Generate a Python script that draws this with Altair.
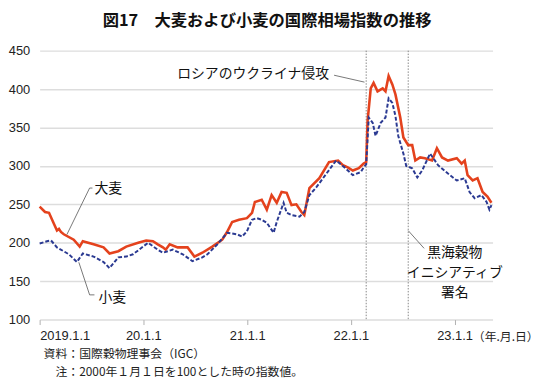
import altair as alt
import pandas as pd

# ---- data ----
barley_dates = [
    "2019-01-01", "2019-01-20", "2019-02-03", "2019-02-21", "2019-03-03", "2019-03-10",
    "2019-03-17", "2019-03-27", "2019-05-01", "2019-05-22", "2019-06-02", "2019-07-10",
    "2019-08-14", "2019-09-04", "2019-10-05", "2019-11-02", "2019-12-14", "2020-01-11",
    "2020-02-04", "2020-02-21", "2020-03-10", "2020-03-20", "2020-04-03", "2020-05-01",
    "2020-06-05", "2020-06-29", "2020-07-27", "2020-08-31", "2020-10-05", "2020-10-22",
    "2020-11-09", "2020-12-03", "2020-12-31", "2021-01-18", "2021-01-28", "2021-02-21",
    "2021-03-11", "2021-03-28", "2021-04-15", "2021-05-02", "2021-05-20", "2021-06-06",
    "2021-06-23", "2021-07-11", "2021-07-21", "2021-08-08", "2021-09-12", "2021-10-16",
    "2021-11-17", "2021-12-04", "2021-12-21", "2022-01-08", "2022-01-29", "2022-02-15",
    "2022-02-24", "2022-03-01", "2022-03-12", "2022-03-22", "2022-04-05", "2022-04-23",
    "2022-05-03", "2022-05-14", "2022-05-27", "2022-06-07", "2022-06-24", "2022-07-05",
    "2022-07-22", "2022-08-05", "2022-08-16", "2022-09-02", "2022-09-19", "2022-10-14",
    "2022-10-31", "2022-11-18", "2022-12-09", "2023-01-09", "2023-01-26", "2023-02-06",
    "2023-02-16", "2023-03-06", "2023-03-23", "2023-04-10", "2023-04-27", "2023-05-11",
]
barley_values = [
    247, 240, 239, 224, 216, 218,
    214, 211, 204, 195, 202, 198,
    194, 186, 189, 195, 200, 203,
    202, 198, 194, 191, 198, 194,
    194, 182, 187, 195, 204, 214,
    227, 230, 232, 239, 253, 256,
    243, 262, 252, 266, 265, 249,
    250, 240, 236, 271, 284, 305,
    307, 301, 298, 294, 297, 303,
    305, 359, 401, 408, 397, 401,
    397, 417, 406, 393, 363, 337,
    327, 327, 307, 311, 310, 307,
    323, 311, 307, 310, 303, 307,
    288, 281, 284, 266, 260, 252,
]

wheat_dates = [
    "2019-01-01", "2019-01-27", "2019-02-10", "2019-03-03", "2019-04-14", "2019-05-12",
    "2019-06-02", "2019-07-10", "2019-08-14", "2019-09-04", "2019-10-05", "2019-11-02",
    "2019-11-26", "2020-01-18", "2020-02-21", "2020-03-10", "2020-04-14", "2020-05-19",
    "2020-06-22", "2020-07-27", "2020-08-14", "2020-09-18", "2020-10-22", "2020-11-26",
    "2020-12-14", "2020-12-31", "2021-01-18", "2021-02-04", "2021-02-21", "2021-03-11",
    "2021-04-04", "2021-04-15", "2021-05-09", "2021-05-20", "2021-06-06", "2021-07-04",
    "2021-07-21", "2021-08-08", "2021-09-01", "2021-10-23", "2021-11-10", "2021-12-04",
    "2022-01-08", "2022-02-05", "2022-02-15", "2022-02-24", "2022-03-05", "2022-03-19",
    "2022-03-29", "2022-04-16", "2022-05-03", "2022-05-14", "2022-05-27", "2022-06-07",
    "2022-06-17", "2022-07-05", "2022-07-15", "2022-08-05", "2022-08-23", "2022-09-09",
    "2022-10-07", "2022-11-04", "2022-12-09", "2023-01-09", "2023-02-06", "2023-02-23",
    "2023-03-13", "2023-04-06", "2023-04-24", "2023-05-04", "2023-05-11",
]
wheat_values = [
    199, 202, 203, 194, 185, 175,
    186, 182, 175, 167, 181, 182,
    185, 200, 191, 187, 191, 185,
    176, 181, 185, 198, 213, 211,
    208, 215, 230, 232, 230, 226,
    213, 227, 252, 239, 236, 234,
    240, 262, 272, 298, 307, 300,
    288, 292, 298, 302, 363, 356,
    339, 356, 363, 388, 382, 365,
    339, 316, 300, 297, 285, 294,
    316, 301, 290, 281, 284, 266,
    258, 262, 253, 243, 249,
]

y_ticks = [100, 150, 200, 250, 300, 350, 400, 450]
x_tick_years = [2019, 2020, 2021, 2022, 2023]
x_tick_labels = ["2019.1.1", "20.1.1", "21.1.1", "22.1.1", "23.1.1"]
event_dates = ["2022-02-24", "2022-07-22"]

title_text = "図17　大麦および小麦の国際相場指数の推移"
unit_text = "（年.月.日）"
source_lines = ["資料：国際穀物理事会（IGC）", "注：2000年１月１日を100とした時の指数値。"]

# annotation texts (anchored in data coordinates)
ann_right_text = ["ロシアのウクライナ侵攻"]
ann_right_date = ["2021-10-16"]
ann_right_value = [419]

ann_left_text = ["大麦", "小麦"]
ann_left_date = ["2019-07-13", "2019-07-27"]
ann_left_value = [270, 128]

ann_center_text = ["黒海穀物", "イニシアティブ", "署名"]
ann_center_date = ["2023-01-02", "2023-01-02", "2023-01-02"]
ann_center_value = [186, 160.5, 134.7]

# leader lines: start/end
lead_d1 = ["2021-11-03", "2019-06-26", "2019-06-26", "2019-05-19", "2019-06-26", "2022-07-22"]
lead_v1 = [418, 271.2, 271.2, 174.6, 132.2, 215.8]
lead_d2 = ["2022-02-18", "2019-07-06", "2019-04-07", "2019-06-26", "2019-07-13", "2022-09-16"]
lead_v2 = [409, 271.2, 210.7, 132.2, 132.2, 192.7]

# ---- build tables ----
barley_df = pd.DataFrame({"date": barley_dates, "value": barley_values})
wheat_df = pd.DataFrame({"date": wheat_dates, "value": wheat_values})
events_df = pd.DataFrame({"date": event_dates})
lead_df = pd.DataFrame({"d1": lead_d1, "v1": lead_v1, "d2": lead_d2, "v2": lead_v2})
ann_r = pd.DataFrame({"date": ann_right_date, "value": ann_right_value, "label": ann_right_text})
ann_l = pd.DataFrame({"date": ann_left_date, "value": ann_left_value, "label": ann_left_text})
ann_c = pd.DataFrame({"date": ann_center_date, "value": ann_center_value, "label": ann_center_text})

JP = "Noto Sans CJK JP"
NUM = "Liberation Sans"

label_array = "[" + ",".join("'%s'" % s for s in x_tick_labels) + "]"
label_expr = "%s[utcyear(datum.value) - %d]" % (label_array, x_tick_years[0])

x_scale = alt.Scale(
    type="utc",
    domain=[alt.DateTime(year=2019, month=1, date=1, utc=True),
            alt.DateTime(year=2023, month=5, date=15, utc=True)],
)
y_scale = alt.Scale(domain=[100, 450], nice=False, zero=False)

x_axis = alt.Axis(
    values=[alt.DateTime(year=y, month=1, date=1, utc=True) for y in x_tick_years],
    labelExpr=label_expr, title=None, grid=False, domain=False, ticks=True,
    tickSize=5, tickColor="#b0b0b0", tickWidth=1, labelFontSize=13, labelFont=NUM,
    labelColor="#222222", labelPadding=5, labelOverlap=False,
)
y_axis = alt.Axis(
    values=y_ticks, title=None, domain=False, ticks=False, grid=True,
    gridColor="#dddddd", gridWidth=1.5, labelFontSize=13, labelFont=NUM,
    labelColor="#222222", labelPadding=10, labelOverlap=False, labelFlush=False,
    format="d",
)

X = lambda f: alt.X(f, scale=x_scale, axis=x_axis)
Y = lambda f: alt.Y(f, scale=y_scale, axis=y_axis)

events = alt.Chart(events_df).mark_rule(
    color="#888888", strokeWidth=1, strokeDash=[1.5, 1.5]
).encode(x=X("date:T"))

barley = alt.Chart(barley_df).mark_line(
    color="#e4421d", strokeWidth=2.6
).encode(x=X("date:T"), y=Y("value:Q"))

wheat = alt.Chart(wheat_df).mark_line(
    color="#2b3a92", strokeWidth=2, strokeDash=[4, 2]
).encode(x=X("date:T"), y=Y("value:Q"))

leaders = alt.Chart(lead_df).mark_rule(color="#555555", strokeWidth=0.8).encode(
    x=X("d1:T"), x2="d2:T", y=Y("v1:Q"), y2="v2:Q"
)

t_right = alt.Chart(ann_r).mark_text(
    align="right", baseline="middle", font=JP, fontSize=14, color="#111111"
).encode(x=X("date:T"), y=Y("value:Q"), text="label:N")

t_left = alt.Chart(ann_l).mark_text(
    align="left", baseline="middle", font=JP, fontSize=14, color="#111111"
).encode(x=X("date:T"), y=Y("value:Q"), text="label:N")

t_center = alt.Chart(ann_c).mark_text(
    align="center", baseline="middle", font=JP, fontSize=14, color="#111111"
).encode(x=X("date:T"), y=Y("value:Q"), text="label:N")

title = alt.Chart(pd.DataFrame({"t": [title_text]})).mark_text(
    align="center", baseline="middle", font=JP, fontSize=16.5, fontWeight="bold", color="#111111"
).encode(x=alt.value(230), y=alt.value(-30), text="t:N")

unit = alt.Chart(pd.DataFrame({"t": [unit_text]})).mark_text(
    align="left", baseline="middle", font=JP, fontSize=12, color="#222222"
).encode(x=alt.value(438), y=alt.value(290), text="t:N")

src1 = alt.Chart(pd.DataFrame({"t": [source_lines[0]]})).mark_text(
    align="left", baseline="middle", font=JP, fontSize=12, color="#222222"
).encode(x=alt.value(4), y=alt.value(307), text="t:N")

src2 = alt.Chart(pd.DataFrame({"t": [source_lines[1]]})).mark_text(
    align="left", baseline="middle", font=JP, fontSize=12, color="#222222"
).encode(x=alt.value(16), y=alt.value(325), text="t:N")

chart = alt.layer(
    events, barley, wheat, leaders, t_right, t_left, t_center, title, unit, src1, src2
).properties(
    width=458, height=272,
    autosize=alt.AutoSizeParams(type="none"),
    padding={"left": 32, "top": 41, "right": 50, "bottom": 62},
    background="white",
).configure_view(stroke=None).configure_axis(labelOverlap=False)

chart.save("out.html", embed_options={"renderer": "svg", "actions": False})
